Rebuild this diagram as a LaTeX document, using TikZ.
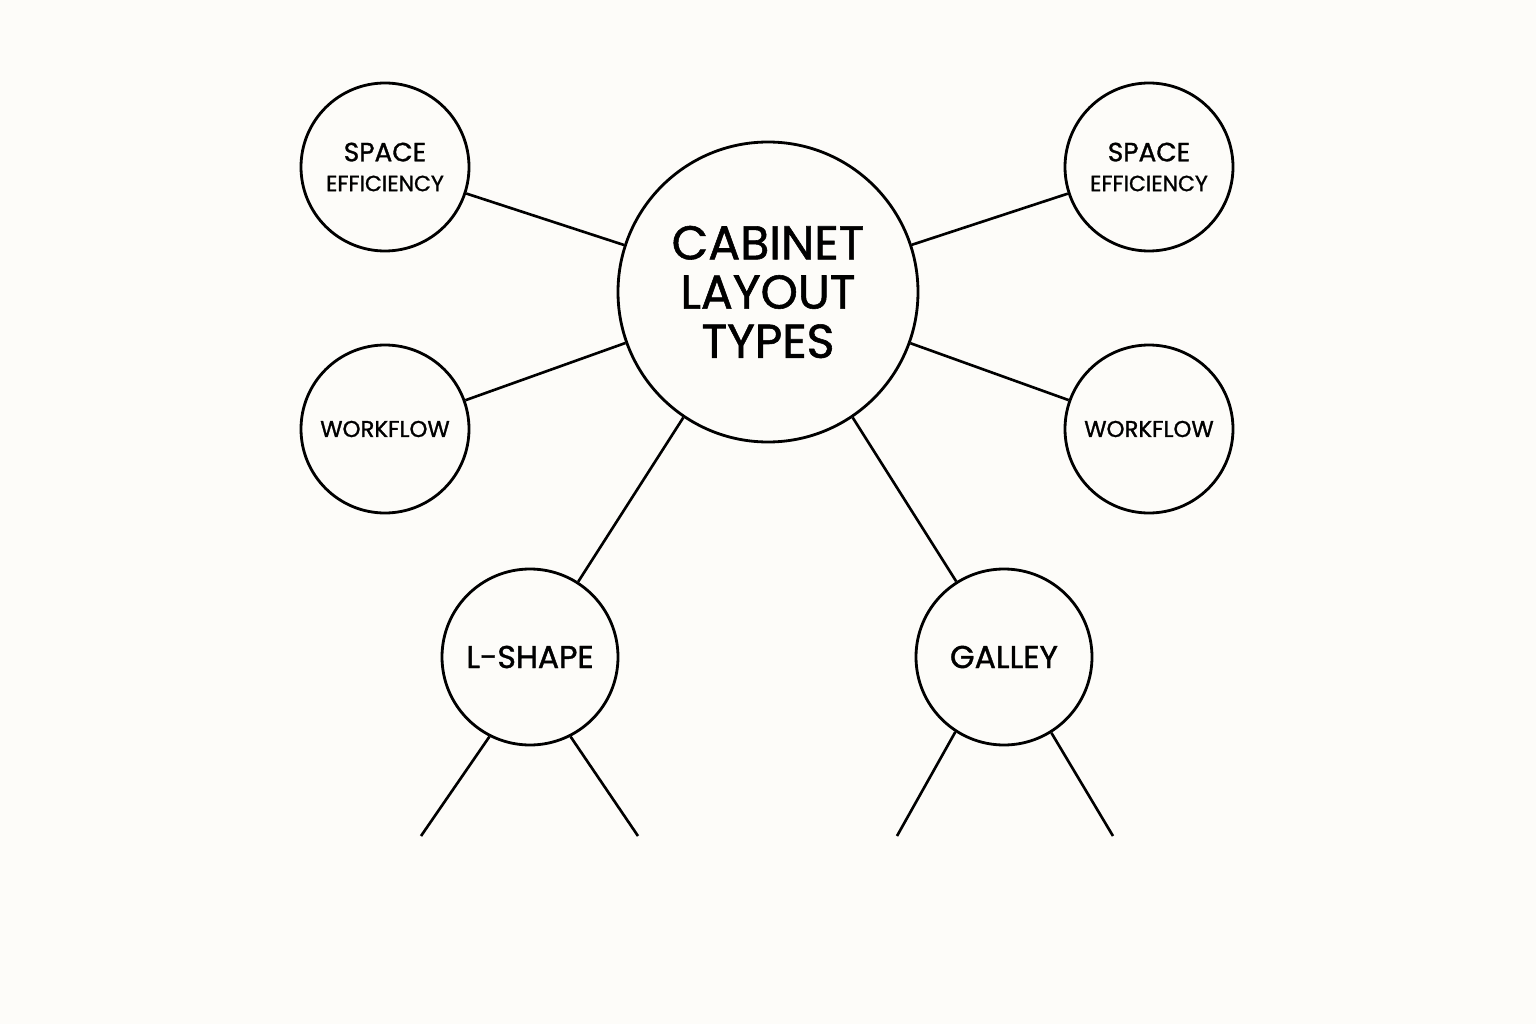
\documentclass[tikz,border=0pt]{standalone}
\usepackage{fontspec}
\setmainfont{Poppins}[FakeBold=1.2]
\definecolor{paper}{RGB}{253,252,249}
\begin{document}
\begin{tikzpicture}[x=0.02cm, y=-0.02cm, line width=1.6pt,
    topic/.style={draw, circle, align=center, inner sep=0pt},
    link/.style={draw, line width=1.5pt}]
    \fill[paper] (0,0) rectangle (1536,1024);

    \node[topic, minimum size=300*0.02cm, font=\fontsize{27}{28}\selectfont] (hub) at (768,292) {CABINET\\LAYOUT\\TYPES};

    \node[topic, minimum size=168*0.02cm] (spl) at (385,167) {{\fontsize{15}{19}\selectfont SPACE}\\[5pt]{\fontsize{12.5}{19}\selectfont EFFICIENCY}};
    \node[topic, minimum size=168*0.02cm] (spr) at (1149,167) {{\fontsize{15}{19}\selectfont SPACE}\\[5pt]{\fontsize{12.5}{19}\selectfont EFFICIENCY}};
    \node[topic, minimum size=168*0.02cm, font=\fontsize{13}{16}\selectfont] (wfl) at (385,429) {WORKFLOW};
    \node[topic, minimum size=168*0.02cm, font=\fontsize{13}{16}\selectfont] (wfr) at (1149,429) {WORKFLOW};
    \node[topic, minimum size=176*0.02cm, font=\fontsize{18}{20}\selectfont] (lsh) at (530,657) {L-SHAPE};
    \node[topic, minimum size=176*0.02cm, font=\fontsize{18}{20}\selectfont] (gal) at (1004,657) {GALLEY};

    % spokes from the hub
    \draw[link] (hub) -- (spl);
    \draw[link] (hub) -- (spr);
    \draw[link] (hub) -- (wfl);
    \draw[link] (hub) -- (wfr);
    \draw[link] (hub.236) -- (lsh);
    \draw[link] (hub.304) -- (gal);

    % open branches below
    \coordinate (la) at (421,836);
    \coordinate (lb) at (638,836);
    \coordinate (ga) at (897,836);
    \coordinate (gb) at (1113,836);
    \draw[link] (lsh.243) -- (la);
    \draw[link] (lsh.297) -- (lb);
    \draw[link] (gal.237) -- (ga);
    \draw[link] (gal.302) -- (gb);
\end{tikzpicture}
\end{document}
